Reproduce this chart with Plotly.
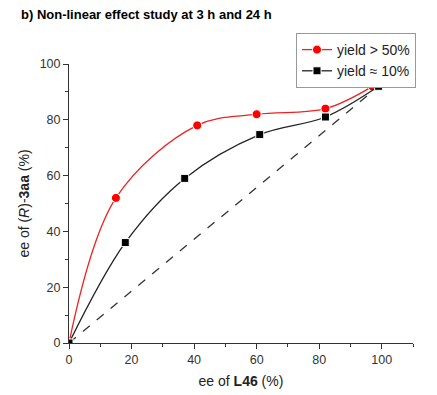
import plotly.graph_objects as go

x_high = [0, 15, 41, 60, 82, 97]
y_high = [0, 52, 78, 82, 84, 92]
x_low = [0, 18, 37, 61, 82, 99]
y_low = [0, 36, 59, 74.7, 81, 92]
x_ref = [0, 99]
y_ref = [0, 92]

fig = go.Figure()
fig.add_trace(go.Scatter(x=x_ref, y=y_ref, mode="lines", showlegend=False,
                         line=dict(color="#333333", width=1.3, dash="dash")))
fig.add_trace(go.Scatter(x=x_high, y=y_high, mode="lines+markers", name="yield > 50%",
                         line=dict(color="#ee2222", width=1.3, shape="spline", smoothing=1.0),
                         marker=dict(symbol="circle", size=9, color="#ff0000",
                                     line=dict(color="white", width=1))))
fig.add_trace(go.Scatter(x=x_low, y=y_low, mode="lines+markers", name="yield \u2248 10%",
                         line=dict(color="#222222", width=1.3, shape="spline", smoothing=1.0),
                         marker=dict(symbol="square", size=8, color="#000000",
                                     line=dict(color="white", width=1))))

axis_common = dict(showline=True, linecolor="#333333", linewidth=1, showgrid=False,
                   zeroline=False, ticks="outside", ticklen=5, tickcolor="#333333",
                   tickfont=dict(size=12.5, color="#333333"), automargin=False,
                   minor=dict(ticks="outside", ticklen=3, dtick=10, tickcolor="#333333"))

# page has an 8px body margin; figure coordinates = screen - 8
W, H = 429, 387
L, R, T, B = 61, 408, 25, 335     # plot region (legend box top/right, axes origin)
Y100 = 56                          # y=100 pixel
X110 = 405                         # x=110 pixel
fig.update_layout(
    width=W, height=H,
    margin=dict(l=L, r=W - R, t=T, b=H - B),
    paper_bgcolor="white", plot_bgcolor="white",
    font=dict(family="Liberation Sans, Arial, sans-serif", color="#222222"),
    title=dict(text="<b>b) Non-linear effect study at 3 h and 24 h</b>",
               x=13/W, xanchor="left", y=1-6/H, yanchor="middle",
               font=dict(size=13, color="#000000")),
    legend=dict(x=1.0, y=1.0, xanchor="right", yanchor="top",
                bgcolor="white", bordercolor="#999999", borderwidth=1,
                font=dict(size=14, color="#222222"), tracegroupgap=0,
                itemwidth=30),
)
fig.update_xaxes(range=[0, 110], tickvals=[0, 20, 40, 60, 80, 100],
                 domain=[0, (X110 - L) / (R - L)],
                 title=dict(text="ee of <b>L46</b> (%)", font=dict(size=14), standoff=10),
                 **axis_common)
fig.update_yaxes(range=[0, 100], tickvals=[0, 20, 40, 60, 80, 100],
                 domain=[0, (B - Y100) / (B - T)],
                 title=dict(text="ee of (<i>R</i>)-<b>3aa</b> (%)", font=dict(size=14), standoff=6),
                 **axis_common)

fig.write_html("out.html")
